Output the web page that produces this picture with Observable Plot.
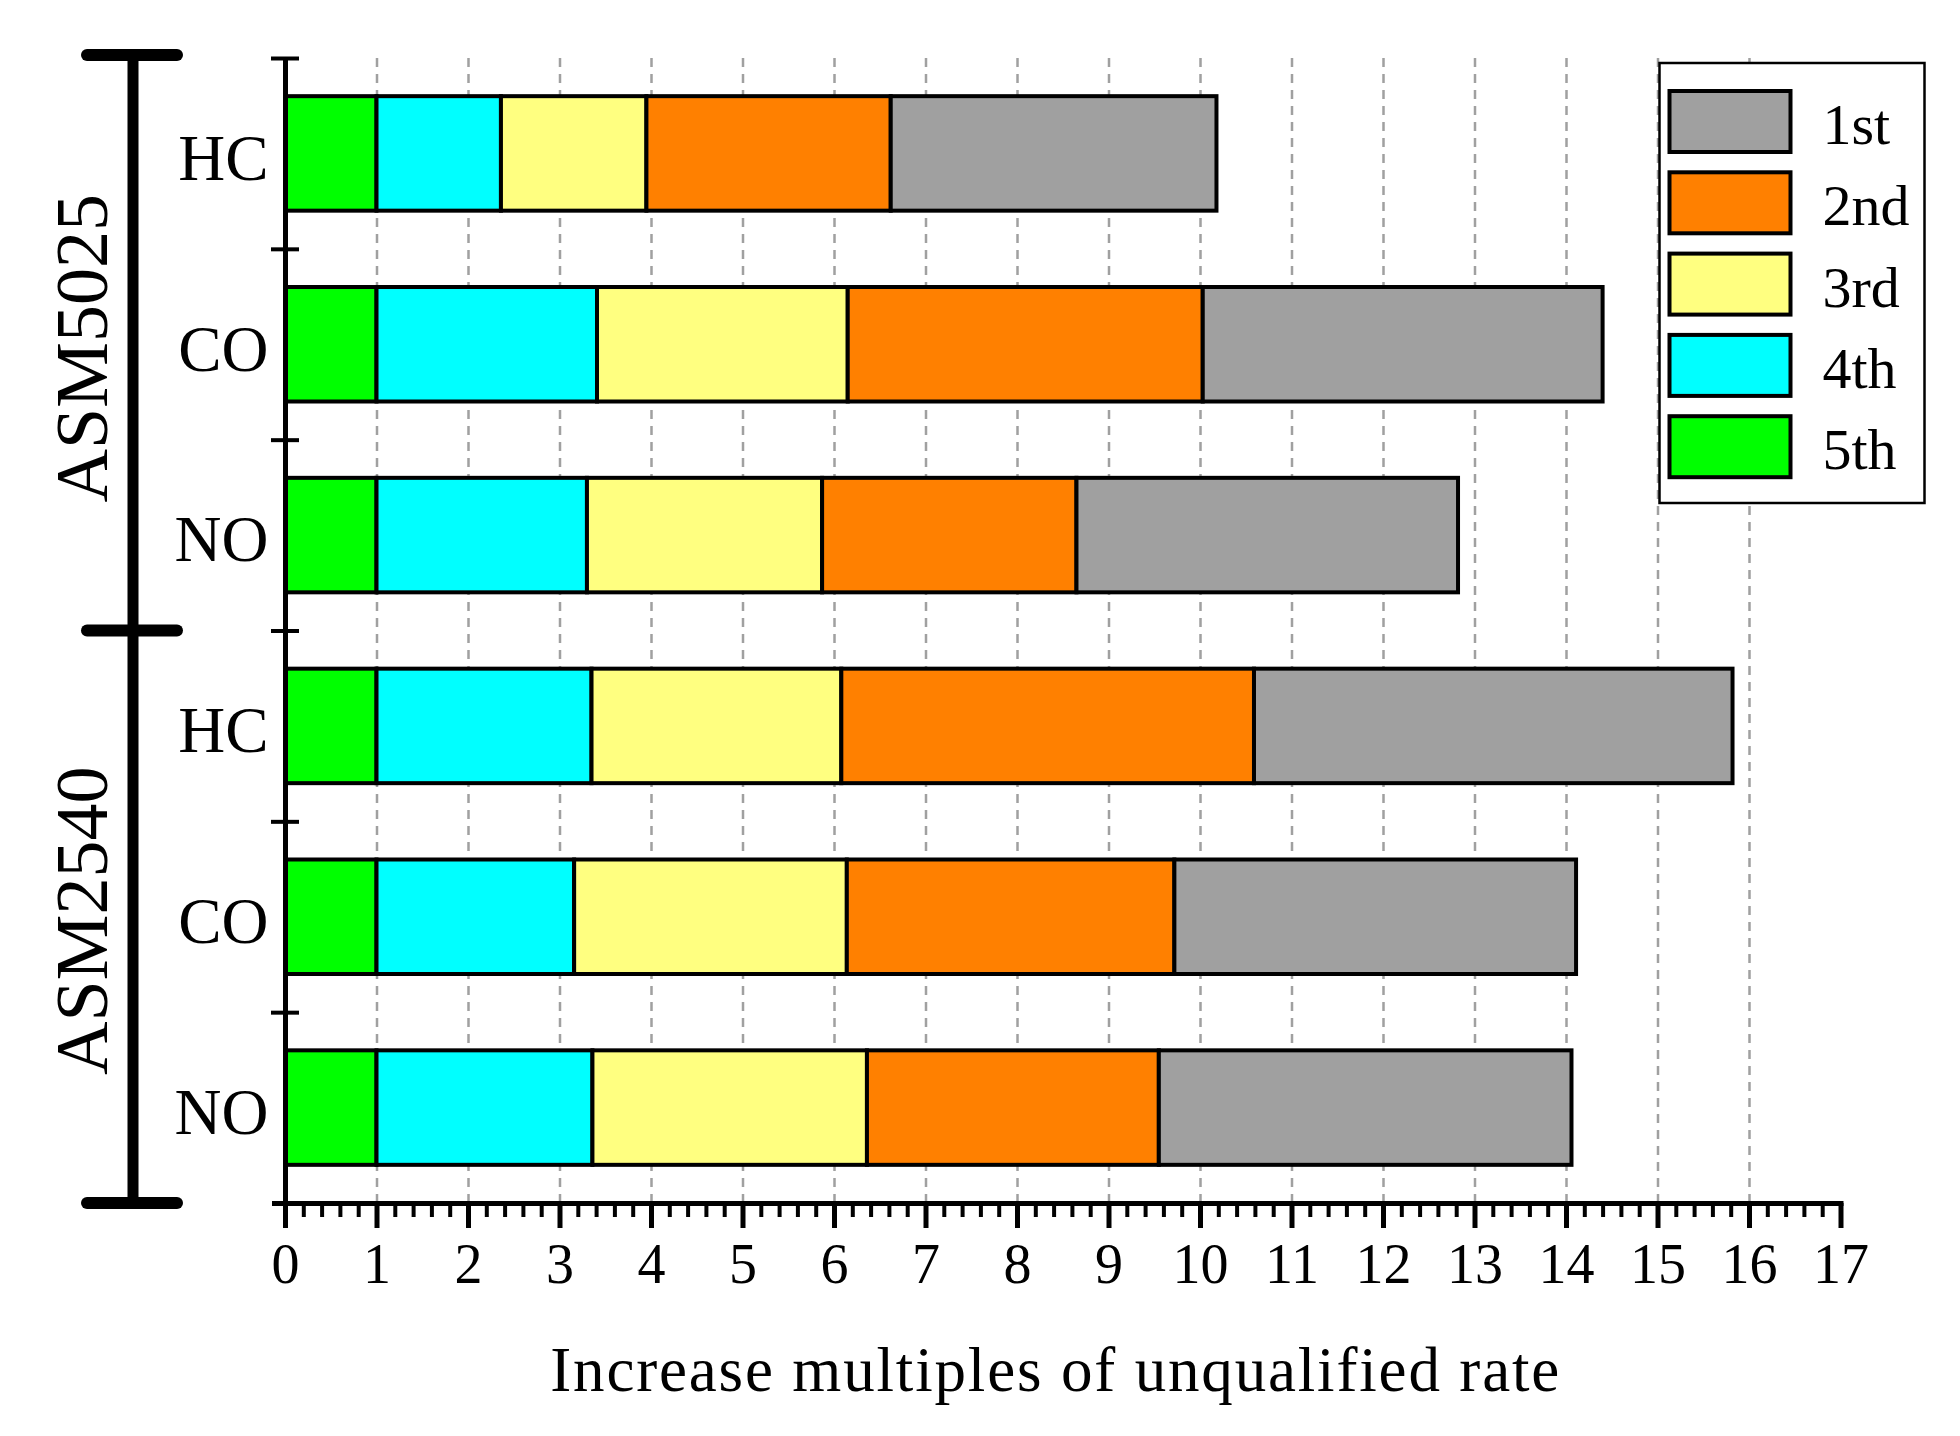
<!DOCTYPE html>
<html>
<head>
<meta charset="utf-8">
<script src="https://cdn.jsdelivr.net/npm/d3@7"></script>
<script src="https://cdn.jsdelivr.net/npm/@observablehq/plot@0.6"></script>
<style>
  body { margin: 0; background: #ffffff; }
  #chart svg { display: block; }
</style>
</head>
<body>
<div id="chart"></div>
<script>
// ---- data ----
const groups = ["ASM5025", "ASM2540"];
const categories = ["HC", "CO", "NO"];
const stages = ["5th", "4th", "3rd", "2nd", "1st"];          // stacking order, left to right
const stageColors = ["#00ff00", "#00ffff", "#ffff80", "#ff8000", "#a0a0a0"];
const legendOrder = ["1st", "2nd", "3rd", "4th", "5th"];
const xTicks = [0, 1, 2, 3, 4, 5, 6, 7, 8, 9, 10, 11, 12, 13, 14, 15, 16, 17];
const axisTitle = "Increase multiples of unqualified rate";

// segment lengths in stage order 5th, 4th, 3rd, 2nd, 1st
const asm5025HC = [1.00, 1.36, 1.59, 2.67, 3.56];
const asm5025CO = [1.00, 2.41, 2.74, 3.88, 4.37];
const asm5025NO = [1.00, 2.30, 2.57, 2.78, 4.17];
const asm2540HC = [1.00, 2.35, 2.73, 4.51, 5.23];
const asm2540CO = [1.00, 2.16, 2.98, 3.58, 4.39];
const asm2540NO = [1.00, 2.36, 3.00, 3.19, 4.51];

const seriesByGroup = {
  ASM5025: [asm5025HC, asm5025CO, asm5025NO],
  ASM2540: [asm2540HC, asm2540CO, asm2540NO]
};

// ---- table ----
const rows = [];
groups.forEach((g, gi) => {
  categories.forEach((c, ci) => {
    rows.push({group: g, cat: c, row: gi * categories.length + ci, values: seriesByGroup[g][ci]});
  });
});
const segments = [];
rows.forEach(r => {
  const ends = Array.from(d3.cumsum(r.values));
  r.values.forEach((v, i) => {
    segments.push({row: r.row, stage: stages[i], start: i === 0 ? 0 : ends[i - 1], end: ends[i]});
  });
});
const minorTicks = d3.range(0, 85).map(i => i / 5).filter((v, i) => i % 5 !== 0);
const rowBoundaries = d3.range(0, rows.length);

const serif = "'Liberation Serif', 'DejaVu Serif', serif";

// bracket + group labels (left margin)
function groupBracket(index, scales) {
  const g = d3.create("svg:g");
  const x0 = scales.x(0);
  const bx = x0 - 152;
  const per = categories.length;
  const bounds = d3.range(0, groups.length + 1).map(i => scales.y(i * per));
  g.append("line")
    .attr("x1", bx).attr("x2", bx)
    .attr("y1", bounds[0] - 3).attr("y2", bounds[bounds.length - 1])
    .attr("stroke", "black").attr("stroke-width", 11);
  bounds.forEach((b, i) => {
    g.append("line")
      .attr("x1", bx - 46).attr("x2", bx + 44)
      .attr("y1", i === 0 ? b - 3 : b).attr("y2", i === 0 ? b - 3 : b)
      .attr("stroke", "black").attr("stroke-width", 12)
      .attr("stroke-linecap", "round");
  });
  groups.forEach((grp, i) => {
    const cy = (bounds[i] + bounds[i + 1]) / 2;
    g.append("text")
      .attr("transform", `translate(${bx - 26},${cy + 4}) rotate(-90)`)
      .attr("text-anchor", "middle")
      .attr("font-family", serif)
      .attr("font-size", 74)
      .attr("fill", "black")
      .text(grp);
  });
  return g.node();
}

// x-axis title, spread to the reference width
function xTitle(index, scales) {
  const g = d3.create("svg:g");
  const cx = (scales.x(0) + scales.x(17)) / 2 - 8;
  const w = 1009;
  g.append("text")
    .attr("x", cx - w / 2).attr("y", scales.y(rows.length) + 188)
    .attr("text-anchor", "start")
    .attr("font-family", serif).attr("font-size", 63).attr("fill", "black")
    .attr("textLength", w).attr("lengthAdjust", "spacing")
    .text(axisTitle);
  return g.node();
}

// legend box (top right)
function legendBox(index, scales) {
  const g = d3.create("svg:g");
  const left = scales.x(15) + 2, top = 63, w = 265, h = 440;
  g.append("rect")
    .attr("x", left).attr("y", top).attr("width", w).attr("height", h)
    .attr("fill", "white").attr("stroke", "black").attr("stroke-width", 2.5);
  legendOrder.forEach((s, i) => {
    const y = top + 28 + i * 81.3;
    g.append("rect")
      .attr("x", left + 10).attr("y", y).attr("width", 121).attr("height", 61)
      .attr("fill", scales.color(s)).attr("stroke", "black").attr("stroke-width", 4);
    g.append("text")
      .attr("x", left + 163).attr("y", y + 53)
      .attr("text-anchor", "start")
      .attr("font-family", serif).attr("font-size", 58).attr("fill", "black")
      .text(s);
  });
  return g.node();
}

const chart = Plot.plot({
  width: 1960,
  height: 1436,
  marginLeft: 285,
  marginRight: 119.5,
  marginTop: 58,
  marginBottom: 233,
  style: {fontFamily: serif, fontSize: "56px", background: "white", color: "black"},
  x: {domain: [0, 17], label: null},
  y: {domain: [0, rows.length], reverse: true, label: null},
  color: {domain: stages, range: stageColors},
  marks: [
    // dashed vertical grid
    Plot.ruleX(xTicks.slice(1, -1), {stroke: "#a0a0a0", strokeWidth: 2.5, strokeDasharray: "9,7"}),
    // stacked bars
    Plot.rect(segments, {
      x1: "start", x2: "end",
      y1: d => d.row + 0.2, y2: d => d.row + 0.8,
      fill: "stage", stroke: "black", strokeWidth: 4
    }),
    // left axis ticks at row boundaries (crossing the axis line)
    Plot.axisY({ticks: rowBoundaries, tickSize: 28, dx: 14, fill: null, label: null, strokeWidth: 4}),
    // axis lines
    Plot.ruleX([0], {strokeWidth: 5}),
    Plot.ruleY([rows.length], {strokeWidth: 5, insetLeft: -13, insetRight: -3}),
    // bottom axis: major and minor ticks
    Plot.axisX({ticks: xTicks, tickSize: 25, tickPadding: 15, strokeWidth: 5, fontSize: 56, label: null, tickFormat: d => d}),
    Plot.axisX({ticks: minorTicks, tickSize: 14, strokeWidth: 4, fill: null, label: null}),
    // category labels
    Plot.text(rows, {x: () => 0, y: d => d.row + 0.5, text: "cat", textAnchor: "end", dx: -17, dy: 5, fontSize: 65, fill: "black"}),
    xTitle,
    groupBracket,
    legendBox
  ]
});
document.getElementById("chart").appendChild(chart);
</script>
</body>
</html>
